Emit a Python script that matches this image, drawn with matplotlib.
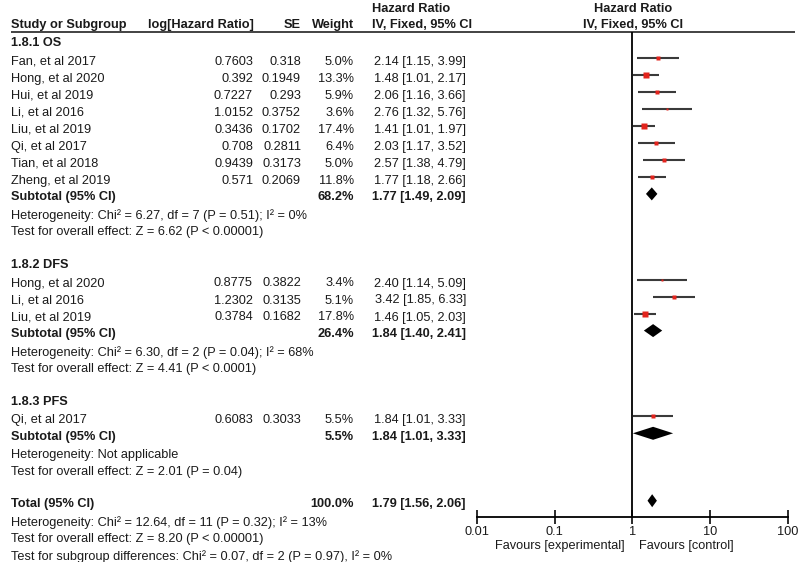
import matplotlib
matplotlib.use('Agg')
import matplotlib.pyplot as plt
from matplotlib.ticker import NullLocator

plt.rcParams['font.family'] = ['Liberation Sans', 'DejaVu Sans']

# ---- data ----
os_names = ['Fan, et al 2017', 'Hong, et al 2020', 'Hui, et al 2019', 'Li, et al 2016',
            'Liu, et al 2019', 'Qi, et al 2017', 'Tian, et al 2018', 'Zheng, et al 2019']
os_loghr = [0.7603, 0.392, 0.7227, 1.0152, 0.3436, 0.708, 0.9439, 0.571]
os_se = [0.318, 0.1949, 0.293, 0.3752, 0.1702, 0.2811, 0.3173, 0.2069]
os_weight = [5.0, 13.3, 5.9, 3.6, 17.4, 6.4, 5.0, 11.8]
os_hr = [2.14, 1.48, 2.06, 2.76, 1.41, 2.03, 2.57, 1.77]
os_lo = [1.15, 1.01, 1.16, 1.32, 1.01, 1.17, 1.38, 1.18]
os_hi = [3.99, 2.17, 3.66, 5.76, 1.97, 3.52, 4.79, 2.66]

dfs_names = ['Hong, et al 2020', 'Li, et al 2016', 'Liu, et al 2019']
dfs_loghr = [0.8775, 1.2302, 0.3784]
dfs_se = [0.3822, 0.3135, 0.1682]
dfs_weight = [3.4, 5.1, 17.8]
dfs_hr = [2.40, 3.42, 1.46]
dfs_lo = [1.14, 1.85, 1.05]
dfs_hi = [5.09, 6.33, 2.03]

pfs_names = ['Qi, et al 2017']
pfs_loghr = [0.6083]
pfs_se = [0.3033]
pfs_weight = [5.5]
pfs_hr = [1.84]
pfs_lo = [1.01]
pfs_hi = [3.33]

# subtotal: weight, hr, lo, hi
os_sub = (68.2, 1.77, 1.49, 2.09)
dfs_sub = (26.4, 1.84, 1.40, 2.41)
pfs_sub = (5.5, 1.84, 1.01, 3.33)
total = (100.0, 1.79, 1.56, 2.06)

groups = [
    ('1.8.1 OS', os_names, os_loghr, os_se, os_weight, os_hr, os_lo, os_hi, os_sub,
     'Heterogeneity: Chi² = 6.27, df = 7 (P = 0.51); I² = 0%',
     'Test for overall effect: Z = 6.62 (P < 0.00001)'),
    ('1.8.2 DFS', dfs_names, dfs_loghr, dfs_se, dfs_weight, dfs_hr, dfs_lo, dfs_hi, dfs_sub,
     'Heterogeneity: Chi² = 6.30, df = 2 (P = 0.04); I² = 68%',
     'Test for overall effect: Z = 4.41 (P < 0.0001)'),
    ('1.8.3 PFS', pfs_names, pfs_loghr, pfs_se, pfs_weight, pfs_hr, pfs_lo, pfs_hi, pfs_sub,
     'Heterogeneity: Not applicable',
     'Test for overall effect: Z = 2.01 (P = 0.04)'),
]
total_notes = ['Heterogeneity: Chi² = 12.64, df = 11 (P = 0.32); I² = 13%',
               'Test for overall effect: Z = 8.20 (P < 0.00001)',
               'Test for subgroup differences: Chi² = 0.07, df = 2 (P = 0.97), I² = 0%']

ticks = [0.01, 0.1, 1, 10, 100]
tick_labels = ['0.01', '0.1', '1', '10', '100']

# ---- layout (pixels) ----
W, H = 800, 562
X_NAME, X_LOG, X_SE, X_W, X_HR = 11, 253, 301, 354, 466
TXT = '#1a1a1a'
FS = 9.2
AXIS_Y = 517

fig = plt.figure(figsize=(W / 100, H / 100), dpi=100)
ax = fig.add_axes([0, 0, 1, 1])
ax.set_xlim(0, W)
ax.set_ylim(H, 0)
ax.axis('off')

fax = fig.add_axes([477 / W, 0, 311 / W, 1])
fax.set_xscale('log')
fax.set_xlim(0.01, 100)
fax.set_ylim(H, 0)
fax.patch.set_alpha(0)


def txt(x, y, s, ha='left', bold=False):
    ax.text(x, y, s, ha=ha, va='center', fontsize=FS, color=TXT,
            fontweight='bold' if bold else 'normal')


def diamond(y, est, lo, hi, h=6.5):
    fax.fill([lo, est, hi, est], [y, y - h, y, y + h], color='black', lw=0)


# header
ax.text(372, 9, 'Hazard Ratio', fontsize=FS, fontweight='bold', color=TXT, va='center')
txt(X_NAME, 25, 'Study or Subgroup', bold=True)
txt(254, 25, 'log[Hazard Ratio]', ha='right', bold=True)
txt(X_SE, 25, 'SE', ha='right', bold=True)
txt(X_W, 25, 'Weight', ha='right', bold=True)
txt(372, 25, 'IV, Fixed, 95% CI', bold=True)
ax.text(633, 9, 'Hazard Ratio', fontsize=FS, fontweight='bold', color=TXT, ha='center', va='center')
ax.text(633, 25, 'IV, Fixed, 95% CI', fontsize=FS, fontweight='bold', color=TXT, ha='center', va='center')
ax.hlines(31.5, 11, 795, color='#222222', lw=1.2)

y = 43.3
for title, names, loghr, se, weight, hr, lo, hi, sub, het, test in groups:
    txt(X_NAME, y, title, bold=True)
    y += 18.5
    for i in range(len(names)):
        txt(X_NAME, y, names[i])
        txt(X_LOG, y, str(loghr[i]), ha='right')
        txt(X_SE, y, str(se[i]), ha='right')
        txt(X_W, y, f'{weight[i]:.1f}%', ha='right')
        txt(X_HR, y, f'{hr[i]:.2f} [{lo[i]:.2f}, {hi[i]:.2f}]', ha='right')
        fax.hlines(y - 4, lo[i], hi[i], color='#3a3a3a', lw=1.5)
        fax.plot(hr[i], y - 4, 's', color='#e3241d', mec='none',
                 markersize=1.0 * weight[i] ** 0.5)
        y += 17.0
    y -= 0.5
    txt(X_NAME, y, 'Subtotal (95% CI)', bold=True)
    txt(X_W, y, f'{sub[0]:.1f}%', ha='right', bold=True)
    txt(X_HR, y, f'{sub[1]:.2f} [{sub[2]:.2f}, {sub[3]:.2f}]', ha='right', bold=True)
    diamond(y - 3.4, sub[1], sub[2], sub[3])
    y += 18.2
    txt(X_NAME, y, het)
    y += 17.0
    txt(X_NAME, y, test)
    y += 32.5

y -= 0.3
txt(X_NAME, y, 'Total (95% CI)', bold=True)
txt(X_W, y, f'{total[0]:.1f}%', ha='right', bold=True)
txt(X_HR, y, f'{total[1]:.2f} [{total[2]:.2f}, {total[3]:.2f}]', ha='right', bold=True)
diamond(y - 3.4, total[1], total[2], total[3])
y += 18.2
for note in total_notes:
    txt(X_NAME, y, note)
    y += 17.0

# forest axis
fax.vlines(1, 31.5, AXIS_Y, color='black', lw=1.3)
for s in ['top', 'left', 'right']:
    fax.spines[s].set_visible(False)
fax.spines['bottom'].set_position(('data', AXIS_Y))
fax.spines['bottom'].set_linewidth(1.3)
fax.set_xticks(ticks)
fax.set_xticklabels(tick_labels)
fax.xaxis.set_minor_locator(NullLocator())
fax.set_yticks([])
fax.tick_params(axis='x', direction='inout', length=10, width=1.3, labelsize=FS,
                pad=1.5, colors=TXT)

ax.text(625, 546, 'Favours [experimental]', fontsize=FS, color=TXT, ha='right', va='center')
ax.text(639, 546, 'Favours [control]', fontsize=FS, color=TXT, ha='left', va='center')

fig.savefig('out.png', dpi=100)
